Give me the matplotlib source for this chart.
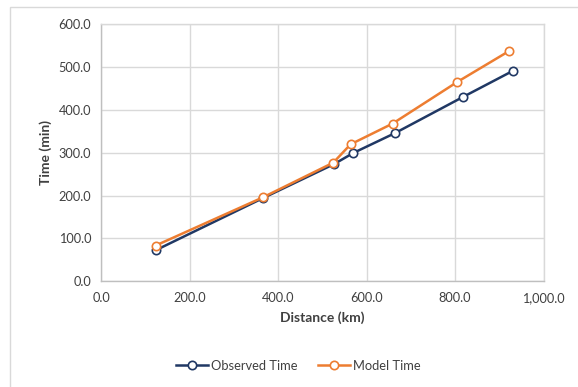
import matplotlib
matplotlib.use("Agg")
import matplotlib.pyplot as plt
from matplotlib.patches import Rectangle
from matplotlib.ticker import FuncFormatter, MultipleLocator

plt.rcParams['font.family'] = ['Lato', 'DejaVu Sans']

# Observed and modelled travel times along the route
observed_km = [123.6, 366.0, 527.0, 570.0, 665.0, 817.0, 931.0]
observed_min = [72.5, 194.2, 273.8, 299.5, 346.3, 429.8, 491.4]
model_km = [123.6, 365.5, 525.0, 564.0, 659.0, 805.6, 922.0]
model_min = [83.5, 195.8, 277.0, 319.8, 368.2, 465.7, 537.4]

navy = '#203864'
orange = '#ED7D31'
grid_col = '#D9D9D9'
text_col = '#404040'

fig = plt.figure(figsize=(5.78, 3.87), dpi=100)
fig.patch.set_facecolor('white')

# chart area frame
fig.patches.append(Rectangle((10 / 578, -0.05), 1.1, 1 - 6.5 / 387 + 0.05,
                             transform=fig.transFigure, fill=False,
                             edgecolor=grid_col, linewidth=1.0))

ax = fig.add_axes([101 / 578, 1 - 281.3 / 387, (543.5 - 101) / 578, (281.3 - 24.3) / 387])
ax.set_xlim(0, 1000)
ax.set_ylim(0, 600)
ax.xaxis.set_major_locator(MultipleLocator(200))
ax.yaxis.set_major_locator(MultipleLocator(100))
ax.xaxis.set_major_formatter(FuncFormatter(lambda v, p: f"{v:,.1f}"))
ax.yaxis.set_major_formatter(FuncFormatter(lambda v, p: f"{v:,.1f}"))
ax.grid(True, color=grid_col, linewidth=1.0)
ax.set_axisbelow(True)
for s in ax.spines.values():
    s.set_color(grid_col)
    s.set_linewidth(1.0)
ax.spines['left'].set_color('#BFBFBF')
ax.spines['bottom'].set_color('#BFBFBF')
ax.tick_params(length=0, labelsize=9.2, colors=text_col, pad=7)
ax.tick_params(axis='x', pad=8)

ax.plot(observed_km, observed_min, color=navy, linewidth=1.8, marker='o',
        markersize=6, markerfacecolor='white', markeredgecolor=navy,
        markeredgewidth=1.2, label='Observed Time', zorder=3)
ax.plot(model_km, model_min, color=orange, linewidth=1.8, marker='o',
        markersize=6, markerfacecolor='white', markeredgecolor=orange,
        markeredgewidth=1.2, label='Model Time', zorder=4)

ax.set_xlabel('Distance (km)', fontsize=10, fontweight='bold', color=text_col, labelpad=5)
ax.set_ylabel('Time (min)', fontsize=10, fontweight='bold', color=text_col, labelpad=5)

fig.legend(loc='center', bbox_to_anchor=(298 / 578, 1 - 366 / 387), ncol=2,
           frameon=False, fontsize=9.3, handlelength=2.5, columnspacing=1.6,
           handletextpad=0.2, labelcolor=text_col)

fig.savefig('out.png', dpi=100, facecolor='white')
